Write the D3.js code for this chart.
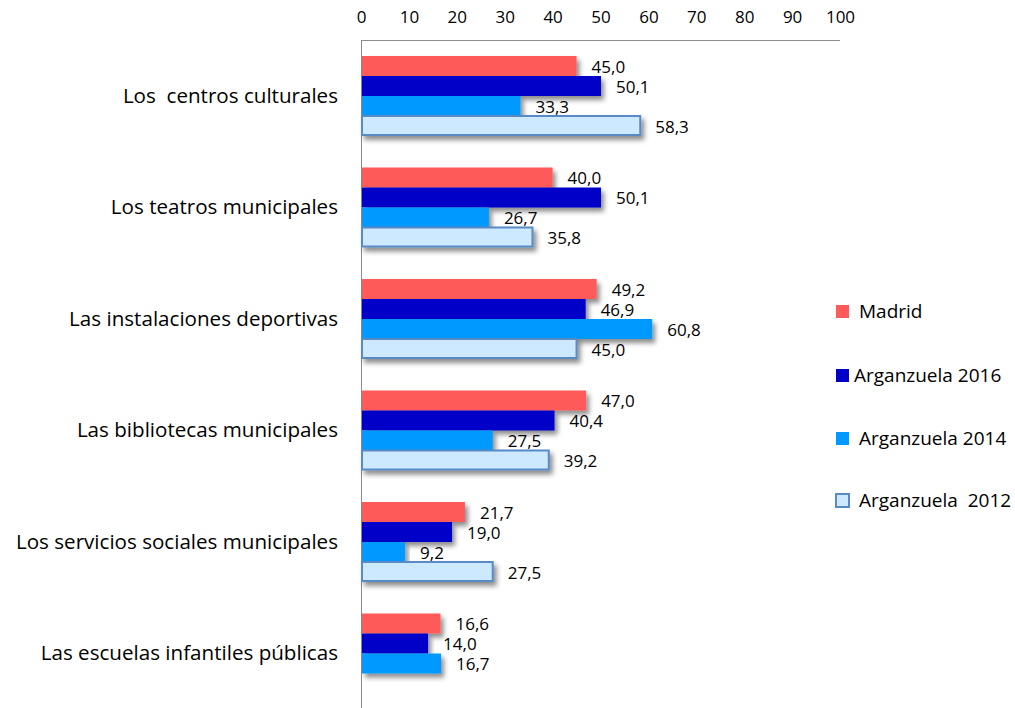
<!DOCTYPE html>
<html>
<head>
<meta charset="utf-8">
<script src="https://cdn.jsdelivr.net/npm/d3@7"></script>
<style>
  body { margin: 0; background: #fff; }
  text { font-family: "Open Sans", "Noto Sans", sans-serif; fill: #000; white-space: pre; }
</style>
</head>
<body>
<svg id="chart" width="1015" height="708"></svg>
<script>
// categories, top to bottom
var categories = [
    "Los  centros culturales",
    "Los teatros municipales",
    "Las instalaciones deportivas",
    "Las bibliotecas municipales",
    "Los servicios sociales municipales",
    "Las escuelas infantiles públicas"
];

var seriesNames = ["Madrid", "Arganzuela 2016", "Arganzuela 2014", "Arganzuela  2012"];

// values per series (null = no bar)
var madrid  = [45.0, 40.0, 49.2, 47.0, 21.7, 16.6];
var arg2016 = [50.1, 50.1, 46.9, 40.4, 19.0, 14.0];
var arg2014 = [33.3, 26.7, 60.8, 27.5, 9.2, 16.7];
var arg2012 = [58.3, 35.8, 45.0, 39.2, 27.5, null];

var ticks = [0, 10, 20, 30, 40, 50, 60, 70, 80, 90, 100];

var fills   = ["#ff5a5a", "#0000c8", "#0099ff", "#cce9ff"];
var strokes = [null, null, null, "#5a8ac6"];

var svg = d3.select("#chart");

var x = d3.scaleLinear().domain([0, 100]).range([361, 840]);

var y = d3.scaleBand()
    .domain(categories)
    .range([40, 709])
    .paddingInner(0)
    .paddingOuter(0);

var inner = d3.scaleBand()
    .domain(d3.range(4))
    .range([16, 96]);

// drop shadow like the spreadsheet bars
var defs = svg.append("defs");
var f = defs.append("filter").attr("id", "shadow")
    .attr("x", "-5%").attr("y", "-30%").attr("width", "115%").attr("height", "180%");
f.append("feDropShadow")
    .attr("dx", 3).attr("dy", 4)
    .attr("stdDeviation", 2.5)
    .attr("flood-color", "#000")
    .attr("flood-opacity", 0.45);

// axis lines
svg.append("line")
    .attr("x1", x(0)).attr("x2", x(100))
    .attr("y1", 40.5).attr("y2", 40.5)
    .attr("stroke", "#8c8c8c");
svg.append("line")
    .attr("x1", x(0) + 0.5).attr("x2", x(0) + 0.5)
    .attr("y1", 40).attr("y2", 708)
    .attr("stroke", "#8c8c8c");

// top tick labels
var xAxis = d3.axisTop(x).tickValues(ticks).tickSize(0).tickPadding(0);
var gx = svg.append("g")
    .attr("transform", "translate(0,23)")
    .call(xAxis);
gx.select(".domain").remove();
gx.selectAll("text")
    .style("font-size", "17px")
    .attr("font-family", null)
    .attr("fill", "#000");

// category labels
svg.append("g").selectAll("text")
    .data(categories)
    .enter()
    .append("text")
    .attr("x", 338)
    .attr("y", d => y(d) + y.bandwidth() / 2)
    .attr("dy", "0.35em")
    .attr("text-anchor", "end")
    .style("font-size", "20.6px")
    .text(d => d);

var allSeries = [madrid, arg2016, arg2014, arg2012];
var rows = [];
categories.forEach(function (c, ci) {
    allSeries.forEach(function (s, si) {
        if (s[ci] != null) rows.push({cat: c, s: si, v: s[ci]});
    });
});

var bars = svg.append("g");
bars.selectAll("rect")
    .data(rows)
    .enter()
    .append("rect")
    .attr("x", x(0) + 1)
    .attr("y", d => y(d.cat) + inner(d.s))
    .attr("width", d => x(d.v) - x(0) - 1)
    .attr("height", d => strokes[d.s] ? inner.bandwidth() - 1 : inner.bandwidth())
    .attr("fill", d => fills[d.s])
    .attr("stroke", d => strokes[d.s])
    .attr("stroke-width", 2)
    .attr("filter", "url(#shadow)");

// value labels
var fmt = d => d.toFixed(1).replace(".", ",");
svg.append("g").selectAll("text")
    .data(rows)
    .enter()
    .append("text")
    .attr("x", d => x(d.v) + 15)
    .attr("y", d => y(d.cat) + inner(d.s) + inner.bandwidth() / 2 + 1)
    .attr("dy", "0.35em")
    .style("font-size", "17px")
    .text(d => fmt(d.v));

// legend
var legendY = [311, 375, 438, 500];
var legendTextX = [859, 854, 859, 859];
var lg = svg.append("g");
seriesNames.forEach(function (n, i) {
    lg.append("rect")
        .attr("x", 836).attr("y", legendY[i] - 6)
        .attr("width", 13).attr("height", 13)
        .attr("fill", fills[i])
        .attr("stroke", strokes[i])
        .attr("stroke-width", 2);
    lg.append("text")
        .attr("x", legendTextX[i])
        .attr("y", legendY[i])
        .attr("dy", "0.35em")
        .style("font-size", "19px")
        .text(n);
});
</script>
</body>
</html>
